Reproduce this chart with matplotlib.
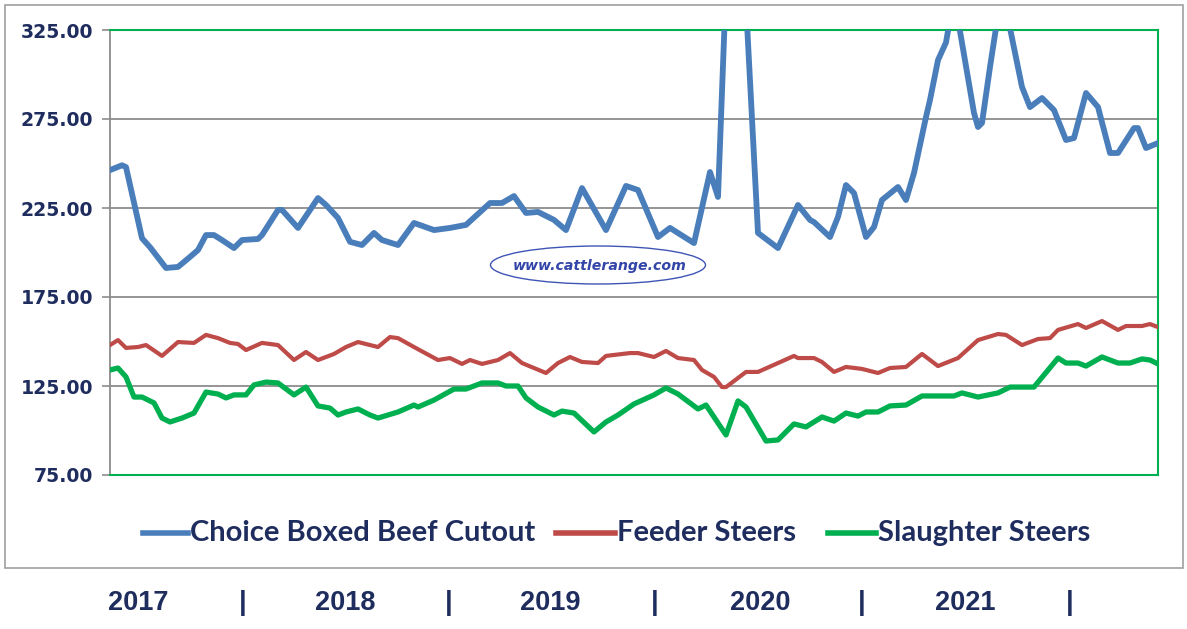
import matplotlib
matplotlib.use("Agg")
import matplotlib.pyplot as plt
from matplotlib.patches import Ellipse, Rectangle
from matplotlib.lines import Line2D

# ---- data (x = weeks since start of 2017) ----
beef_weeks = [0, 3, 4, 8, 10, 14, 17, 20, 22, 24, 26, 28, 31, 33, 37, 38, 42, 43, 47, 52,
              54, 57, 60, 63, 66, 68, 72, 76, 81, 85, 89, 95, 98, 101, 104, 107, 111, 114,
              118, 124, 129, 132, 137, 140, 146, 150, 152, 156, 162, 167, 172, 175, 176,
              180, 182, 184, 186, 189, 191, 193, 197, 199, 201, 204, 205, 207, 209, 211,
              216, 217, 218, 220, 223, 228, 230, 233, 236, 239, 241, 244, 247, 250, 252,
              256, 257, 259, 262]
beef_vals = [246.3, 249.0, 248.0, 208.0, 203.0, 191.3, 191.9, 197.5, 201.4, 209.8, 209.8,
             207.0, 202.5, 207.0, 207.6, 209.8, 223.9, 223.9, 213.8, 230.6, 226.7, 219.4,
             206.0, 204.2, 211.0, 207.0, 204.2, 216.6, 212.6, 213.8, 215.5, 227.8, 227.8,
             231.7, 222.2, 222.8, 218.3, 212.6, 236.2, 212.6, 237.4, 235.1, 208.7, 213.8,
             205.3, 245.2, 231.2, 468.0, 211.0, 202.5, 226.7, 218.3, 217.1, 208.7, 220.0,
             237.9, 233.4, 208.7, 214.3, 229.5, 236.8, 229.5, 244.7, 276.1, 285.7, 308.1,
             318.0, 344.0, 278.4, 270.5, 272.8, 304.2, 348.0, 293.0, 281.7, 286.8, 280.0,
             263.2, 264.3, 289.6, 281.7, 255.9, 255.9, 269.9, 269.9, 258.7, 261.5]

feeder_weeks = [0, 2, 4, 7, 9, 13, 17, 21, 24, 27, 30, 32, 34, 38, 42, 46, 49, 52, 56, 59,
                62, 67, 70, 72, 76, 82, 85, 88, 90, 93, 97, 100, 103, 109, 112, 115, 118,
                122, 124, 130, 132, 136, 139, 142, 146, 148, 151, 153, 154, 159, 162, 167,
                171, 172, 176, 178, 181, 184, 188, 192, 195, 199, 203, 207, 212, 217, 222,
                224, 228, 232, 235, 237, 242, 244, 248, 252, 254, 258, 260, 262]
feeder_vals = [148.0, 150.8, 146.4, 146.9, 148.0, 141.9, 149.7, 149.2, 153.7, 151.9, 149.2,
               148.6, 145.2, 149.2, 148.0, 139.6, 144.1, 139.6, 143.0, 146.9, 149.7, 146.9,
               152.5, 151.9, 146.9, 139.6, 140.7, 137.4, 139.6, 137.4, 139.6, 143.5, 137.9,
               132.3, 137.9, 141.3, 138.5, 137.9, 141.9, 143.5, 143.5, 141.3, 144.7, 140.7,
               139.6, 134.0, 130.1, 124.4, 124.4, 132.9, 132.9, 137.9, 141.9, 140.7, 140.7,
               138.5, 132.9, 135.7, 134.6, 132.3, 135.1, 135.7, 143.0, 136.2, 140.7, 150.8,
               154.2, 153.7, 148.0, 151.4, 151.9, 156.5, 159.8, 157.6, 161.5, 156.5, 158.7,
               158.7, 159.8, 158.1]

slaughter_weeks = [0, 2, 4, 6, 8, 11, 13, 15, 18, 21, 24, 27, 29, 31, 34, 36, 39, 42, 46,
                   49, 52, 55, 57, 59, 62, 65, 67, 72, 76, 77, 81, 86, 89, 93, 97, 99, 102,
                   104, 107, 111, 113, 116, 121, 124, 127, 131, 136, 139, 142, 147, 149, 154,
                   157, 159, 164, 167, 171, 174, 178, 181, 184, 187, 189, 192, 195, 199, 203,
                   211, 213, 217, 222, 225, 231, 237, 239, 242, 244, 248, 252, 255, 258, 260,
                   262]
slaughter_vals = [134.0, 135.1, 130.1, 118.8, 118.8, 115.5, 107.0, 104.8, 107.0, 109.8,
                  121.6, 120.5, 118.3, 120.0, 120.0, 125.6, 127.2, 126.7, 120.0, 124.4,
                  113.8, 112.6, 108.7, 110.4, 112.1, 108.7, 107.0, 110.4, 114.3, 113.2,
                  117.1, 123.3, 123.3, 126.7, 126.7, 125.0, 125.0, 118.3, 113.2, 108.7,
                  110.9, 109.8, 99.2, 104.8, 108.7, 114.9, 120.0, 123.9, 120.5, 112.1,
                  114.3, 97.5, 116.6, 113.2, 94.1, 94.7, 103.7, 102.0, 107.6, 105.3, 109.8,
                  108.1, 110.4, 110.4, 113.8, 114.3, 119.4, 119.4, 121.1, 118.8, 121.1,
                  124.4, 124.4, 140.7, 137.9, 137.9, 136.2, 141.3, 137.9, 137.9, 140.2,
                  139.6, 137.4]

series_names = ["Choice Boxed Beef Cutout", "Feeder Steers", "Slaughter Steers"]
series_colors = ["#4A7EBB", "#BE4B48", "#00B050"]
y_ticks = [75, 125, 175, 225, 275, 325]
year_labels = ["2017", "2018", "2019", "2020", "2021"]

NAVY = "#1F2D5E"
W, H = 1187, 629
fig = plt.figure(figsize=(W / 100, H / 100), dpi=100)

def fx(px):
    return px / W

def fy(py):
    return 1 - py / H

# outer border
fig.patches.append(Rectangle((fx(5), fy(568)), fx(1183) - fx(5), fy(5) - fy(568),
                             transform=fig.transFigure, fill=False,
                             edgecolor="#A0A0A0", linewidth=1.2))

ax = fig.add_axes([fx(110), fy(475), fx(1158) - fx(110), fy(30) - fy(475)])
ax.set_xlim(0, 262)
ax.set_ylim(75, 325)

ax.plot(beef_weeks, beef_vals, color=series_colors[0], lw=4.2, solid_joinstyle="round", zorder=4)
ax.plot(feeder_weeks, feeder_vals, color=series_colors[1], lw=3.0, solid_joinstyle="round", zorder=3)
ax.plot(slaughter_weeks, slaughter_vals, color=series_colors[2], lw=3.8, solid_joinstyle="round", zorder=3)

ax.set_yticks(y_ticks)
ax.set_yticklabels([f"{v:.2f}" for v in y_ticks], fontsize=13.6, fontweight="bold",
                   color=NAVY, family="DejaVu Sans")
ax.set_xticks([])
for g in y_ticks[1:-1]:
    ax.axhline(g, color="#8C8C8C", lw=1.3, zorder=1)
ax.tick_params(axis="y", length=6, width=1.2, color="#8C8C8C", pad=6, direction="out")
ax.spines["left"].set_color("#8C8C8C")
ax.spines["left"].set_linewidth(1.3)
for s in ["top", "right", "bottom"]:
    ax.spines[s].set_color("#00B050")
    ax.spines[s].set_linewidth(1.5)

# watermark
fig.patches.append(Ellipse((fx(598), fy(265)), fx(215), 38 / H, transform=fig.transFigure,
                           fill=False, edgecolor="#3F55B5", linewidth=1.0))
fig.text(fx(600), fy(266), "www.cattlerange.com", ha="center", va="center",
         fontsize=10.2, fontweight="bold", style="italic", color="#3346A8",
         family="DejaVu Sans")

# legend (manual)
leg_y = fy(533)
leg_items = [(143, 190), (556, 617), (828, 878)]
for (x0, x1), name, col in zip(leg_items, series_names, series_colors):
    fig.add_artist(Line2D([fx(x0), fx(x1 - 2)], [leg_y, leg_y], transform=fig.transFigure,
                          color=col, lw=4.0))
    fig.text(fx(x1), leg_y, name, ha="left", va="center", fontsize=21,
             fontweight="bold", color=NAVY, family="Lato")

# year labels beneath
year_x = [138, 345, 550, 760, 965]
sep_x = [243, 449, 655, 862, 1070]
for x, lab in zip(year_x, year_labels):
    fig.text(fx(x), fy(603), lab, ha="center", va="center", fontsize=19.5,
             fontweight="bold", color=NAVY, family="Liberation Sans")
for x in sep_x:
    fig.text(fx(x), fy(603), "|", ha="center", va="center", fontsize=19.5,
             fontweight="bold", color=NAVY, family="Liberation Sans")

fig.savefig("out.png", dpi=100)
